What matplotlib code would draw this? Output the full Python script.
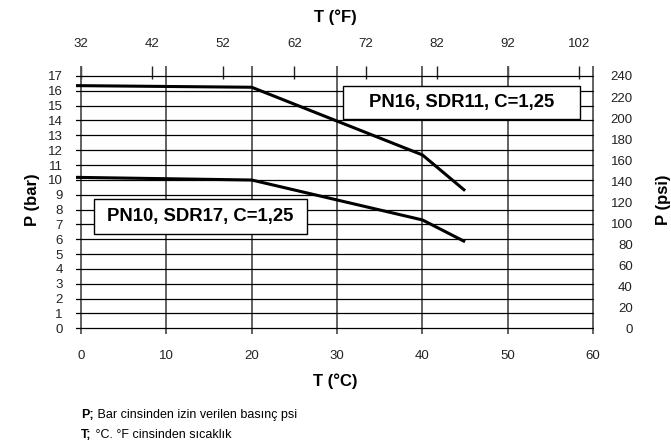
import matplotlib
matplotlib.use("Agg")
import matplotlib.pyplot as plt
from matplotlib.patches import Rectangle

plt.rcParams['font.family'] = ['Liberation Sans', 'DejaVu Sans']

# ---- data ----
temps_c = [-0.6, 20, 40, 45]
pn16_bar = [16.35, 16.24, 11.68, 9.27]
pn10_bar = [10.17, 9.99, 7.30, 5.83]

bar_ticks = list(range(0, 18))
c_ticks = list(range(0, 61, 10))
f_ticks = list(range(32, 103, 10))
psi_ticks = list(range(0, 241, 20))

label_pn16 = "PN16, SDR11, C=1,25"
label_pn10 = "PN10, SDR17, C=1,25"

# ---- figure ----
fig = plt.figure(figsize=(6.71, 4.48), dpi=100)
ax = fig.add_axes([0.1131, 0.2540, 0.7721, 0.5996])
ax.set_xlim(-0.6, 60.1)
ax.set_ylim(-0.4, 17.7)
for s in ax.spines.values():
    s.set_visible(False)

ax.set_xticks(c_ticks)
ax.set_yticks(bar_ticks)
ax.tick_params(axis='both', length=0, labelsize=9.5, colors='#222222')
ax.tick_params(axis='y', pad=9.4)
ax.tick_params(axis='x', pad=11.5)
ax.xaxis.grid(True, color='#555555', lw=1.3)
ax.yaxis.grid(True, color='black', lw=0.9)
ax.set_axisbelow(True)

ax.plot(temps_c, pn16_bar, color='black', lw=2.2, solid_capstyle='butt', zorder=3)
ax.plot(temps_c, pn10_bar, color='black', lw=2.2, solid_capstyle='butt', zorder=3)

# label boxes
ax.add_patch(Rectangle((30.7, 14.1), 27.8, 2.23, facecolor='white', edgecolor='black', lw=1.0, zorder=4))
ax.text(30.7 + 27.8 / 2, 14.1 + 2.23 / 2, label_pn16, ha='center', va='center',
        fontsize=13.3, fontweight='bold', zorder=5)
ax.add_patch(Rectangle((1.5, 6.35), 25.0, 2.36, facecolor='white', edgecolor='black', lw=1.0, zorder=4))
ax.text(1.5 + 25.0 / 2, 6.35 + 2.36 / 2, label_pn10, ha='center', va='center',
        fontsize=13.3, fontweight='bold', zorder=5)

ax.set_xlabel('T (°C)', fontsize=12, fontweight='bold', labelpad=8)
ax.set_ylabel('P (bar)', fontsize=12, fontweight='bold', labelpad=6)

# top °F axis
secax = ax.secondary_xaxis('top', functions=(lambda c: 32 + 1.2 * c, lambda f: (f - 32) / 1.2))
secax.set_xticks(f_ticks)
secax.tick_params(direction='in', length=9.4, width=1.0, pad=11, labelsize=9.5, colors='#222222')
for s in secax.spines.values():
    s.set_visible(False)
secax.set_xlabel('T (°F)', fontsize=12, fontweight='bold', labelpad=12)

# right psi axis
twin = ax.twinx()
twin.set_ylim(-0.4 * 240 / 17, 17.7 * 240 / 17)
twin.set_yticks(psi_ticks)
twin.tick_params(axis='y', length=0, pad=28, labelsize=9.5, colors='#222222')
for lbl in twin.yaxis.get_majorticklabels():
    lbl.set_horizontalalignment('right')
for s in twin.spines.values():
    s.set_visible(False)
twin.set_ylabel('P (psi)', fontsize=12, fontweight='bold', labelpad=17)

# footer notes
t1 = fig.text(81 / 671, 1 - 415 / 448, 'P;', fontsize=9, fontweight='bold', va='center', ha='left')
t2 = fig.text(81 / 671, 1 - 435 / 448, 'T;', fontsize=9, fontweight='bold', va='center', ha='left')
ax.annotate(' Bar cinsinden izin verilen basınç psi', xy=(1, 0.5), xycoords=t1,
            va='center', ha='left', fontsize=9, annotation_clip=False)
ax.annotate(' °C. °F cinsinden sıcaklık', xy=(1, 0.5), xycoords=t2,
            va='center', ha='left', fontsize=9, annotation_clip=False)

fig.savefig('out.png', dpi=100)
